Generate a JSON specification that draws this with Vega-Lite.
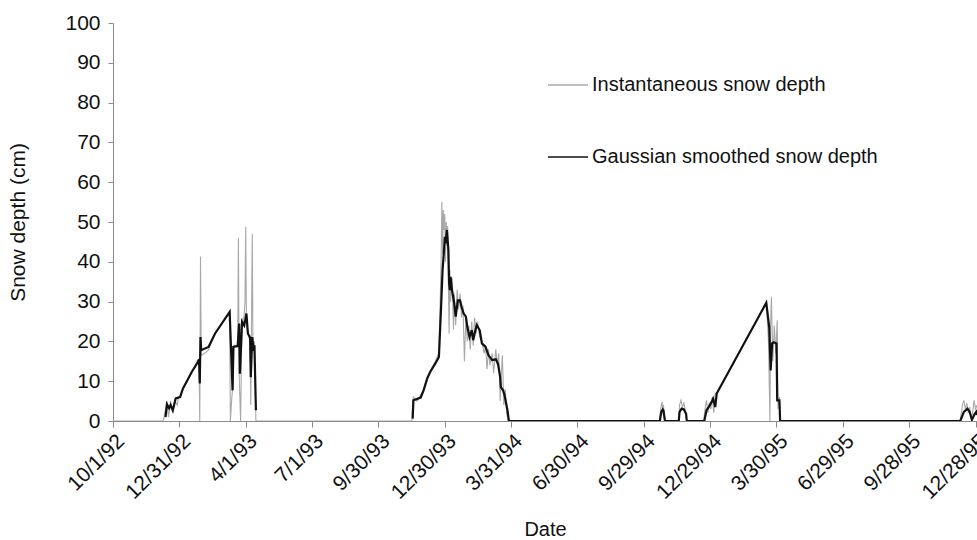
{
  "$schema": "https://vega.github.io/schema/vega-lite/v6.json",
  "autosize": "none",
  "width": 864,
  "height": 398,
  "padding": {"left": 113, "top": 23, "right": 0, "bottom": 119},
  "background": "white",
  "config": {
    "view": {"stroke": null},
    "font": "Liberation Sans",
    "axis": {
      "grid": false,
      "domainColor": "#8a8a8a",
      "domainWidth": 1,
      "tickColor": "#8a8a8a",
      "labelColor": "#111111",
      "titleColor": "#111111",
      "labelFont": "Liberation Sans",
      "titleFont": "Liberation Sans",
      "titleFontWeight": "normal"
    }
  },
  "datasets": {
    "inst": [
      {"date": "1992-10-01", "depth": 0},
      {"date": "1992-12-09", "depth": 0},
      {"date": "1992-12-12", "depth": 3},
      {"date": "1992-12-14", "depth": 5},
      {"date": "1992-12-16", "depth": 1},
      {"date": "1992-12-19", "depth": 5},
      {"date": "1992-12-22", "depth": 2},
      {"date": "1992-12-25", "depth": 5},
      {"date": "1992-12-28", "depth": 4},
      {"date": "1992-12-30", "depth": 6},
      {"date": "1993-01-01", "depth": 6},
      {"date": "1993-01-05", "depth": 8.2},
      {"date": "1993-01-17", "depth": 12.3},
      {"date": "1993-01-24", "depth": 14.4},
      {"date": "1993-01-27", "depth": 15.2},
      {"date": "1993-01-28", "depth": 0},
      {"date": "1993-01-29", "depth": 41.3},
      {"date": "1993-01-30", "depth": 16.5},
      {"date": "1993-02-09", "depth": 17.8},
      {"date": "1993-02-18", "depth": 22},
      {"date": "1993-03-10", "depth": 27.4},
      {"date": "1993-03-11", "depth": 0},
      {"date": "1993-03-13", "depth": 6},
      {"date": "1993-03-15", "depth": 10},
      {"date": "1993-03-16", "depth": 19},
      {"date": "1993-03-21", "depth": 19},
      {"date": "1993-03-22", "depth": 46},
      {"date": "1993-03-23", "depth": 12},
      {"date": "1993-03-25", "depth": 0},
      {"date": "1993-03-27", "depth": 26},
      {"date": "1993-03-29", "depth": 24},
      {"date": "1993-03-31", "depth": 30},
      {"date": "1993-04-01", "depth": 48.8},
      {"date": "1993-04-02", "depth": 26},
      {"date": "1993-04-04", "depth": 22},
      {"date": "1993-04-07", "depth": 20},
      {"date": "1993-04-08", "depth": 4},
      {"date": "1993-04-10", "depth": 47},
      {"date": "1993-04-11", "depth": 18},
      {"date": "1993-04-13", "depth": 20},
      {"date": "1993-04-14", "depth": 10},
      {"date": "1993-04-15", "depth": 0},
      {"date": "1993-11-15", "depth": 0},
      {"date": "1993-11-16", "depth": 4},
      {"date": "1993-11-17", "depth": 6},
      {"date": "1993-11-22", "depth": 5},
      {"date": "1993-11-27", "depth": 6.5},
      {"date": "1993-12-01", "depth": 8},
      {"date": "1993-12-06", "depth": 11},
      {"date": "1993-12-10", "depth": 12.5},
      {"date": "1993-12-17", "depth": 15},
      {"date": "1993-12-22", "depth": 17},
      {"date": "1993-12-23", "depth": 24},
      {"date": "1993-12-25", "depth": 40},
      {"date": "1993-12-26", "depth": 55},
      {"date": "1993-12-27", "depth": 42},
      {"date": "1993-12-28", "depth": 53},
      {"date": "1993-12-29", "depth": 48},
      {"date": "1993-12-30", "depth": 52},
      {"date": "1993-12-31", "depth": 40},
      {"date": "1994-01-01", "depth": 50},
      {"date": "1994-01-02", "depth": 44},
      {"date": "1994-01-03", "depth": 49},
      {"date": "1994-01-04", "depth": 34},
      {"date": "1994-01-05", "depth": 22},
      {"date": "1994-01-06", "depth": 38},
      {"date": "1994-01-07", "depth": 30},
      {"date": "1994-01-09", "depth": 36},
      {"date": "1994-01-11", "depth": 23},
      {"date": "1994-01-12", "depth": 32},
      {"date": "1994-01-14", "depth": 24},
      {"date": "1994-01-16", "depth": 33},
      {"date": "1994-01-18", "depth": 28},
      {"date": "1994-01-20", "depth": 32},
      {"date": "1994-01-22", "depth": 26},
      {"date": "1994-01-24", "depth": 29},
      {"date": "1994-01-26", "depth": 15},
      {"date": "1994-01-28", "depth": 26},
      {"date": "1994-01-30", "depth": 20},
      {"date": "1994-02-01", "depth": 24},
      {"date": "1994-02-03", "depth": 18},
      {"date": "1994-02-05", "depth": 25},
      {"date": "1994-02-07", "depth": 19},
      {"date": "1994-02-09", "depth": 26},
      {"date": "1994-02-11", "depth": 22},
      {"date": "1994-02-13", "depth": 25},
      {"date": "1994-02-16", "depth": 21},
      {"date": "1994-02-19", "depth": 20},
      {"date": "1994-02-22", "depth": 17},
      {"date": "1994-02-24", "depth": 19},
      {"date": "1994-02-26", "depth": 13},
      {"date": "1994-02-28", "depth": 18},
      {"date": "1994-03-02", "depth": 14},
      {"date": "1994-03-05", "depth": 17},
      {"date": "1994-03-07", "depth": 12},
      {"date": "1994-03-10", "depth": 18},
      {"date": "1994-03-12", "depth": 14},
      {"date": "1994-03-14", "depth": 17},
      {"date": "1994-03-16", "depth": 5},
      {"date": "1994-03-17", "depth": 10},
      {"date": "1994-03-19", "depth": 16.5},
      {"date": "1994-03-21", "depth": 4},
      {"date": "1994-03-23", "depth": 8},
      {"date": "1994-03-25", "depth": 2},
      {"date": "1994-03-27", "depth": 0},
      {"date": "1994-10-21", "depth": 0},
      {"date": "1994-10-22", "depth": 3},
      {"date": "1994-10-24", "depth": 4.8},
      {"date": "1994-10-25", "depth": 3},
      {"date": "1994-10-26", "depth": 4},
      {"date": "1994-10-28", "depth": 0},
      {"date": "1994-11-16", "depth": 0},
      {"date": "1994-11-17", "depth": 4},
      {"date": "1994-11-19", "depth": 5.2},
      {"date": "1994-11-21", "depth": 3.5},
      {"date": "1994-11-23", "depth": 4.5},
      {"date": "1994-11-25", "depth": 2.5},
      {"date": "1994-11-27", "depth": 0},
      {"date": "1994-12-20", "depth": 0},
      {"date": "1994-12-22", "depth": 3},
      {"date": "1994-12-24", "depth": 5.2},
      {"date": "1994-12-26", "depth": 2},
      {"date": "1994-12-28", "depth": 4.5},
      {"date": "1994-12-30", "depth": 3},
      {"date": "1995-01-01", "depth": 6},
      {"date": "1995-01-03", "depth": 2},
      {"date": "1995-01-05", "depth": 7},
      {"date": "1995-01-07", "depth": 6.9},
      {"date": "1995-03-16", "depth": 29.7},
      {"date": "1995-03-17", "depth": 27},
      {"date": "1995-03-19", "depth": 20},
      {"date": "1995-03-21", "depth": 0},
      {"date": "1995-03-22", "depth": 25},
      {"date": "1995-03-23", "depth": 31.2},
      {"date": "1995-03-25", "depth": 15},
      {"date": "1995-03-27", "depth": 24},
      {"date": "1995-03-29", "depth": 17},
      {"date": "1995-03-31", "depth": 25.3},
      {"date": "1995-04-01", "depth": 3},
      {"date": "1995-04-03", "depth": 6},
      {"date": "1995-04-04", "depth": 0},
      {"date": "1995-12-07", "depth": 0},
      {"date": "1995-12-10", "depth": 4},
      {"date": "1995-12-12", "depth": 5.2},
      {"date": "1995-12-14", "depth": 3},
      {"date": "1995-12-16", "depth": 4.5},
      {"date": "1995-12-18", "depth": 2},
      {"date": "1995-12-20", "depth": 3.5},
      {"date": "1995-12-22", "depth": 0.5},
      {"date": "1995-12-24", "depth": 2},
      {"date": "1995-12-26", "depth": 5.2},
      {"date": "1995-12-28", "depth": 3},
      {"date": "1995-12-30", "depth": 4}
    ],
    "smooth": [
      {"season": 1, "date": "1992-12-12", "depth": 1},
      {"season": 1, "date": "1992-12-14", "depth": 4.2},
      {"season": 1, "date": "1992-12-17", "depth": 3.2},
      {"season": 1, "date": "1992-12-19", "depth": 4},
      {"season": 1, "date": "1992-12-22", "depth": 2.7},
      {"season": 1, "date": "1992-12-26", "depth": 5.7},
      {"season": 1, "date": "1993-01-01", "depth": 6},
      {"season": 1, "date": "1993-01-05", "depth": 8.2},
      {"season": 1, "date": "1993-01-17", "depth": 12.3},
      {"season": 1, "date": "1993-01-24", "depth": 14.4},
      {"season": 1, "date": "1993-01-27", "depth": 15.5},
      {"season": 1, "date": "1993-01-28", "depth": 9.4},
      {"season": 1, "date": "1993-01-29", "depth": 21.1},
      {"season": 1, "date": "1993-01-30", "depth": 17.8},
      {"season": 1, "date": "1993-02-09", "depth": 18.6},
      {"season": 1, "date": "1993-02-18", "depth": 22},
      {"season": 1, "date": "1993-03-10", "depth": 27.4},
      {"season": 1, "date": "1993-03-14", "depth": 7.7},
      {"season": 1, "date": "1993-03-15", "depth": 18.6},
      {"season": 1, "date": "1993-03-21", "depth": 18.8},
      {"season": 1, "date": "1993-03-23", "depth": 24.5},
      {"season": 1, "date": "1993-03-24", "depth": 11.9},
      {"season": 1, "date": "1993-03-27", "depth": 24.9},
      {"season": 1, "date": "1993-03-30", "depth": 24},
      {"season": 1, "date": "1993-04-02", "depth": 27},
      {"season": 1, "date": "1993-04-04", "depth": 22},
      {"season": 1, "date": "1993-04-07", "depth": 21},
      {"season": 1, "date": "1993-04-08", "depth": 11},
      {"season": 1, "date": "1993-04-10", "depth": 21.1},
      {"season": 1, "date": "1993-04-12", "depth": 17.6},
      {"season": 1, "date": "1993-04-13", "depth": 19},
      {"season": 1, "date": "1993-04-15", "depth": 2.7},
      {"season": 2, "date": "1993-11-16", "depth": 0.6},
      {"season": 2, "date": "1993-11-17", "depth": 5.2},
      {"season": 2, "date": "1993-11-27", "depth": 5.9},
      {"season": 2, "date": "1993-12-01", "depth": 7.7},
      {"season": 2, "date": "1993-12-06", "depth": 10.7},
      {"season": 2, "date": "1993-12-10", "depth": 12.3},
      {"season": 2, "date": "1993-12-17", "depth": 14.4},
      {"season": 2, "date": "1993-12-22", "depth": 16.1},
      {"season": 2, "date": "1993-12-23", "depth": 20.3},
      {"season": 2, "date": "1993-12-25", "depth": 28.7},
      {"season": 2, "date": "1993-12-27", "depth": 37.9},
      {"season": 2, "date": "1993-12-29", "depth": 42.9},
      {"season": 2, "date": "1993-12-30", "depth": 46.3},
      {"season": 2, "date": "1993-12-31", "depth": 44.6},
      {"season": 2, "date": "1994-01-02", "depth": 48},
      {"season": 2, "date": "1994-01-04", "depth": 43},
      {"season": 2, "date": "1994-01-05", "depth": 34.6},
      {"season": 2, "date": "1994-01-06", "depth": 32.9},
      {"season": 2, "date": "1994-01-07", "depth": 36.2},
      {"season": 2, "date": "1994-01-09", "depth": 32.9},
      {"season": 2, "date": "1994-01-12", "depth": 29.6},
      {"season": 2, "date": "1994-01-14", "depth": 26.2},
      {"season": 2, "date": "1994-01-17", "depth": 30.3},
      {"season": 2, "date": "1994-01-20", "depth": 30.3},
      {"season": 2, "date": "1994-01-22", "depth": 28.7},
      {"season": 2, "date": "1994-01-25", "depth": 27},
      {"season": 2, "date": "1994-01-28", "depth": 26.2},
      {"season": 2, "date": "1994-01-30", "depth": 23.6},
      {"season": 2, "date": "1994-02-02", "depth": 21.1},
      {"season": 2, "date": "1994-02-05", "depth": 22.8},
      {"season": 2, "date": "1994-02-07", "depth": 20.3},
      {"season": 2, "date": "1994-02-10", "depth": 22.8},
      {"season": 2, "date": "1994-02-12", "depth": 24.1},
      {"season": 2, "date": "1994-02-16", "depth": 22.8},
      {"season": 2, "date": "1994-02-19", "depth": 19.5},
      {"season": 2, "date": "1994-02-24", "depth": 18.6},
      {"season": 2, "date": "1994-02-28", "depth": 16.5},
      {"season": 2, "date": "1994-03-05", "depth": 15.3},
      {"season": 2, "date": "1994-03-10", "depth": 15.5},
      {"season": 2, "date": "1994-03-13", "depth": 14.4},
      {"season": 2, "date": "1994-03-16", "depth": 11.1},
      {"season": 2, "date": "1994-03-17", "depth": 8.5},
      {"season": 2, "date": "1994-03-20", "depth": 7.7},
      {"season": 2, "date": "1994-03-22", "depth": 6.5},
      {"season": 2, "date": "1994-03-26", "depth": 2.7},
      {"season": 2, "date": "1994-03-28", "depth": 0},
      {"season": 2, "date": "1994-10-21", "depth": 0},
      {"season": 2, "date": "1994-10-23", "depth": 2.3},
      {"season": 2, "date": "1994-10-25", "depth": 2.9},
      {"season": 2, "date": "1994-10-26", "depth": 2.6},
      {"season": 2, "date": "1994-10-28", "depth": 0},
      {"season": 2, "date": "1994-11-16", "depth": 0},
      {"season": 2, "date": "1994-11-17", "depth": 2.3},
      {"season": 2, "date": "1994-11-20", "depth": 3.1},
      {"season": 2, "date": "1994-11-23", "depth": 2.9},
      {"season": 2, "date": "1994-11-26", "depth": 1.8},
      {"season": 2, "date": "1994-11-27", "depth": 0},
      {"season": 2, "date": "1994-12-21", "depth": 0},
      {"season": 2, "date": "1994-12-24", "depth": 2.7},
      {"season": 2, "date": "1994-12-27", "depth": 3.5},
      {"season": 2, "date": "1994-12-31", "depth": 4.8},
      {"season": 2, "date": "1995-01-02", "depth": 5.6},
      {"season": 2, "date": "1995-01-05", "depth": 3.5},
      {"season": 2, "date": "1995-01-07", "depth": 6.9},
      {"season": 2, "date": "1995-03-16", "depth": 29.7},
      {"season": 2, "date": "1995-03-20", "depth": 23.6},
      {"season": 2, "date": "1995-03-22", "depth": 12.7},
      {"season": 2, "date": "1995-03-24", "depth": 19.5},
      {"season": 2, "date": "1995-03-26", "depth": 19.8},
      {"season": 2, "date": "1995-03-30", "depth": 19.5},
      {"season": 2, "date": "1995-03-31", "depth": 5.2},
      {"season": 2, "date": "1995-04-03", "depth": 5.2},
      {"season": 2, "date": "1995-04-04", "depth": 0},
      {"season": 2, "date": "1995-12-07", "depth": 0},
      {"season": 2, "date": "1995-12-12", "depth": 2.3},
      {"season": 2, "date": "1995-12-17", "depth": 3.1},
      {"season": 2, "date": "1995-12-20", "depth": 2.3},
      {"season": 2, "date": "1995-12-23", "depth": 0.3},
      {"season": 2, "date": "1995-12-27", "depth": 1.8},
      {"season": 2, "date": "1995-12-29", "depth": 2.3},
      {"season": 2, "date": "1995-12-30", "depth": 1.5}
    ]
  },
  "encoding": {
    "x": {
      "field": "date",
      "type": "temporal",
      "title": "Date",
      "scale": {
        "type": "utc",
        "domain": [
          {"year": 1992, "month": 10, "date": 1, "utc": true},
          {"year": 1995, "month": 12, "date": 30, "utc": true}
        ]
      },
      "axis": {
        "values": [
          {"year": 1992, "month": 10, "date": 1, "utc": true},
          {"year": 1992, "month": 12, "date": 31, "utc": true},
          {"year": 1993, "month": 4, "date": 1, "utc": true},
          {"year": 1993, "month": 7, "date": 1, "utc": true},
          {"year": 1993, "month": 9, "date": 30, "utc": true},
          {"year": 1993, "month": 12, "date": 30, "utc": true},
          {"year": 1994, "month": 3, "date": 31, "utc": true},
          {"year": 1994, "month": 6, "date": 30, "utc": true},
          {"year": 1994, "month": 9, "date": 29, "utc": true},
          {"year": 1994, "month": 12, "date": 29, "utc": true},
          {"year": 1995, "month": 3, "date": 30, "utc": true},
          {"year": 1995, "month": 6, "date": 29, "utc": true},
          {"year": 1995, "month": 9, "date": 28, "utc": true},
          {"year": 1995, "month": 12, "date": 28, "utc": true}
        ],
        "format": "%-m/%-d/%y",
        "labelAngle": -45,
        "labelAlign": "right",
        "labelBaseline": "top",
        "labelFontSize": 21,
        "labelPadding": 3,
        "labelOverlap": false,
        "labelBound": false,
        "tickSize": 6,
        "titleFontSize": 20,
        "titlePadding": 17
      }
    },
    "y": {
      "field": "depth",
      "type": "quantitative",
      "title": "Snow depth (cm)",
      "scale": {"domain": [0, 100], "nice": false, "zero": true},
      "axis": {
        "values": [0, 10, 20, 30, 40, 50, 60, 70, 80, 90, 100],
        "labelFontSize": 21,
        "labelPadding": 8,
        "tickSize": 5,
        "titleFontSize": 21,
        "titlePadding": 36
      }
    },
    "color": {
      "datum": "Instantaneous snow depth",
      "type": "nominal",
      "scale": {
        "domain": ["Instantaneous snow depth", "Gaussian smoothed snow depth"],
        "range": ["#a8a8a8", "#111111"]
      },
      "legend": {
        "title": null,
        "orient": "none",
        "legendX": 434,
        "legendY": 41,
        "symbolType": "stroke",
        "symbolSize": 1600,
        "symbolStrokeWidth": 1.6,
        "labelFontSize": 20,
        "labelFont": "Liberation Sans",
        "labelColor": "#111111",
        "labelOffset": 3,
        "rowPadding": 41,
        "labelLimit": 400
      }
    }
  },
  "layer": [
    {
      "data": {"name": "inst"},
      "mark": {"type": "line", "strokeWidth": 1.1, "clip": true, "interpolate": "linear"},
      "encoding": {
        "color": {"datum": "Instantaneous snow depth", "type": "nominal"}
      }
    },
    {
      "data": {"name": "smooth"},
      "mark": {"type": "line", "strokeWidth": 2.2, "clip": true, "interpolate": "linear"},
      "encoding": {
        "color": {"datum": "Gaussian smoothed snow depth", "type": "nominal"},
        "detail": {"field": "season", "type": "nominal"}
      }
    }
  ]
}
